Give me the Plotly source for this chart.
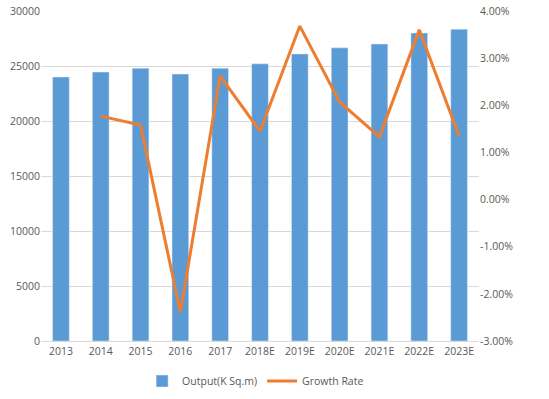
import plotly.graph_objects as go

categories = ["2013", "2014", "2015", "2016", "2017", "2018E", "2019E", "2020E", "2021E", "2022E", "2023E"]
output = [24000, 24450, 24800, 24270, 24800, 25200, 26100, 26650, 27000, 28000, 28350]
growth = [None, 0.0177, 0.0158, -0.0239, 0.0262, 0.0145, 0.0368, 0.0207, 0.0133, 0.0360, 0.0135]
rate_ticks = [-0.03, -0.02, -0.01, 0.0, 0.01, 0.02, 0.03, 0.04]
rate_labels = ["-3.00%", "-2.00%", "-1.00%", "0.00%", "1.00%", "2.00%", "3.00%", "4.00%"]

font = dict(family="Open Sans, Noto Sans, sans-serif", size=10.5, color="#595959")

fig = go.Figure()
fig.add_trace(go.Bar(x=categories, y=output, name="Output(K Sq.m)", marker_color="#5B9BD5", yaxis="y"))
fig.add_trace(go.Scatter(x=categories, y=growth, name="Growth Rate", mode="lines",
                         line=dict(color="#ED7D31", width=3), yaxis="y2", connectgaps=False))

fig.update_layout(
    width=549, height=399,
    margin=dict(l=41, r=70, t=11, b=58, autoexpand=False),
    paper_bgcolor="white", plot_bgcolor="white",
    font=font,
    bargap=0.58,
    showlegend=True,
    legend=dict(orientation="h", x=0.49, xanchor="center", yref="container", y=0.045, yanchor="middle",
                font=font, traceorder="normal"),
    xaxis=dict(type="category", showgrid=False, showline=True, linecolor="#d9d9d9",
               ticks="", tickfont=font, automargin=False),
    yaxis=dict(range=[0, 30000], dtick=5000, tickformat="d", showgrid=True, gridcolor="#d9d9d9",
               zeroline=False, showline=False, ticks="", tickfont=font, automargin=False),
    yaxis2=dict(range=[-0.03, 0.04], tickvals=rate_ticks, ticktext=rate_labels, overlaying="y", side="right",
                showgrid=False, zeroline=False, showline=False, ticks="", tickfont=font, automargin=False),
)

fig.write_html("out.html", config={"displayModeBar": False},
               post_script="document.body.style.margin='0';document.body.style.overflow='hidden';")
